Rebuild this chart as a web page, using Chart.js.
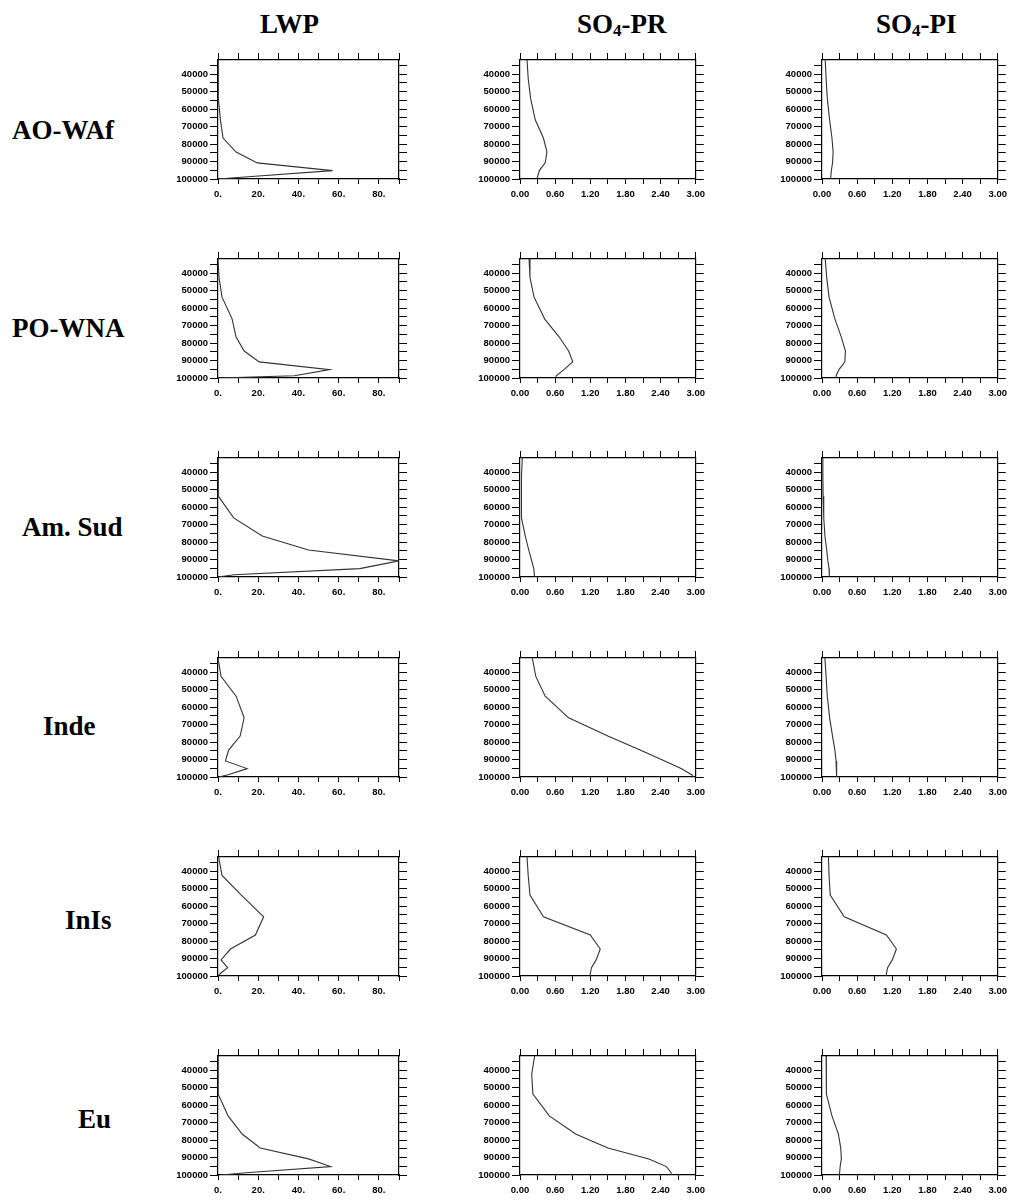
<!DOCTYPE html>
<html>
<head>
<meta charset="utf-8">
<script src="https://cdn.jsdelivr.net/npm/chart.js@4.4.1/dist/chart.umd.min.js"></script>
<style>
  html, body { margin: 0; padding: 0; background: #fff; }
  #page { position: relative; width: 1017px; height: 1202px; background: #fff; overflow: hidden; }
  .title, .region {
    position: absolute;
    font-family: "Liberation Serif", "Times New Roman", serif;
    font-weight: bold;
    font-size: 27px;
    line-height: 27px;
    color: #000;
    white-space: nowrap;
  }
  .title sub { font-size: 17px; vertical-align: -3px; line-height: 0; }
  .panel { position: absolute; }
</style>
</head>
<body>
<div id="page"></div>
<script>
// ────────────────────────────────────────
// Data — vertical profiles (pressure in Pa)
// ────────────────────────────────────────
const REGIONS = ['AO-WAf', 'PO-WNA', 'Am. Sud', 'Inde', 'InIs', 'Eu'];
const COLUMN_TITLES = ['LWP', 'SO<sub>4</sub>-PR', 'SO<sub>4</sub>-PI'];

const PRESSURE_LEVELS = [32000, 42500, 53800, 66200, 76600, 84600, 90800, 95200, 98700, 100000];

const PRESSURE_TICKS = [35000, 40000, 45000, 50000, 55000, 60000, 65000, 70000, 75000, 80000, 85000, 90000, 95000, 100000];
const PRESSURE_LABELS = ['', '40000', '', '50000', '', '60000', '', '70000', '', '80000', '', '90000', '', '100000'];

const LWP_TICKS = [0, 10, 20, 30, 40, 50, 60, 70, 80, 90];
const LWP_LABELS = ['0.', '', '20.', '', '40.', '', '60.', '', '80.', ''];

const SO4_TICKS = [0, 0.3, 0.6, 0.9, 1.2, 1.5, 1.8, 2.1, 2.4, 2.7, 3.0];
const SO4_LABELS = ['0.00', '', '0.60', '', '1.20', '', '1.80', '', '2.40', '', '3.00'];

// LWP
const LWP_AOWAF = [0, 0, 0.3, 1.2, 2.5, 9, 19.5, 57, 15, 0];
const LWP_POWNA = [0, 0.5, 2, 7, 9, 13, 20.5, 55.5, 38, 0];
const LWP_AMSUD = [0, 0, 0.3, 7.8, 22, 45, 90, 70.5, 8, 0];
const LWP_INDE = [0, 1.5, 9, 13, 11, 5.3, 3.7, 14.5, 5, 0.5];
const LWP_INIS = [0.3, 2, 11.6, 22.7, 18.6, 6.2, 1.5, 4.8, 1, 0];
const LWP_EU = [0, 0, 0.2, 5, 12, 21, 45, 56, 14, 1.5];

// SO4 present day
const SO4PR_AOWAF = [0.12, 0.14, 0.18, 0.26, 0.40, 0.46, 0.43, 0.33, 0.30, 0.29];
const SO4PR_POWNA = [0.155, 0.17, 0.24, 0.42, 0.67, 0.83, 0.90, 0.75, 0.62, 0.61];
const SO4PR_AMSUD = [0.04, 0.025, 0.02, 0.03, 0.09, 0.15, 0.20, 0.235, 0.245, 0.245];
const SO4PR_INDE = [0.21, 0.27, 0.43, 0.83, 1.5, 2.05, 2.47, 2.75, 2.93, 2.96];
const SO4PR_INIS = [0.12, 0.14, 0.17, 0.40, 1.2, 1.37, 1.3, 1.22, 1.2, 1.2];
const SO4PR_EU = [0.25, 0.20, 0.22, 0.50, 0.95, 1.5, 2.2, 2.5, 2.58, 2.58];

// SO4 pre-industrial
const SO4PI_AOWAF = [0.055, 0.07, 0.09, 0.13, 0.17, 0.19, 0.18, 0.16, 0.15, 0.15];
const SO4PI_POWNA = [0.055, 0.08, 0.12, 0.22, 0.33, 0.40, 0.39, 0.29, 0.24, 0.24];
const SO4PI_AMSUD = [0.015, 0.015, 0.02, 0.03, 0.05, 0.08, 0.10, 0.12, 0.125, 0.125];
const SO4PI_INDE = [0.05, 0.07, 0.09, 0.13, 0.18, 0.22, 0.24, 0.25, 0.25, 0.25];
const SO4PI_INIS = [0.11, 0.12, 0.14, 0.38, 1.1, 1.27, 1.2, 1.12, 1.1, 1.1];
const SO4PI_EU = [0.07, 0.07, 0.08, 0.17, 0.28, 0.32, 0.33, 0.31, 0.30, 0.30];

const PROFILES = [
    [LWP_AOWAF, SO4PR_AOWAF, SO4PI_AOWAF],
    [LWP_POWNA, SO4PR_POWNA, SO4PI_POWNA],
    [LWP_AMSUD, SO4PR_AMSUD, SO4PI_AMSUD],
    [LWP_INDE, SO4PR_INDE, SO4PI_INDE],
    [LWP_INIS, SO4PR_INIS, SO4PI_INIS],
    [LWP_EU, SO4PR_EU, SO4PI_EU],
];

// ────────────────────────────────────────
// Layout
// ────────────────────────────────────────
const PLOT_LEFT = [218, 520, 822];
const PLOT_TOP = [60, 259, 458, 658, 857, 1056];
const PLOT_W = 181;
const PLOT_H = 119;
const AX_LEFT = 48, AX_RIGHT = 9, AX_TOP = 8, AX_BOTTOM = 26;

const TITLE_POS = [[260, 11], [577, 11], [876, 11]];
const REGION_POS = [[12, 117], [12, 315], [22, 514], [43, 713], [65, 907], [78, 1106]];

const TICK_FONT = { family: '"Liberation Sans", Arial, sans-serif', size: 9.5, weight: 'bold' };
const INK = '#000';

const page = document.getElementById('page');

COLUMN_TITLES.forEach((t, c) => {
    const el = document.createElement('div');
    el.className = 'title';
    el.innerHTML = t;
    el.style.left = TITLE_POS[c][0] + 'px';
    el.style.top = TITLE_POS[c][1] + 'px';
    page.appendChild(el);
});

REGIONS.forEach((name, r) => {
    const el = document.createElement('div');
    el.className = 'region';
    el.textContent = name;
    el.style.left = REGION_POS[r][0] + 'px';
    el.style.top = REGION_POS[r][1] + 'px';
    page.appendChild(el);
});

function setTicks(values) {
    return scale => { scale.ticks = values.map(v => ({ value: v })); };
}

function buildScales(col) {
    const xTicks = col === 0 ? LWP_TICKS : SO4_TICKS;
    const xLabels = col === 0 ? LWP_LABELS : SO4_LABELS;
    const xMax = xTicks[xTicks.length - 1];
    const border = { display: true, color: INK, width: 1.2 };
    const grid = len => ({ drawOnChartArea: false, drawTicks: true, tickLength: len, color: INK, lineWidth: 1 });

    return {
        x: {
            type: 'linear', position: 'bottom', min: 0, max: xMax,
            afterBuildTicks: setTicks(xTicks),
            afterFit: s => { s.height = AX_BOTTOM; },
            ticks: {
                autoSkip: false, maxRotation: 0, padding: 5, color: INK, font: TICK_FONT,
                callback: (v, i) => xLabels[i],
            },
            grid: grid(5),
            border,
        },
        xTop: {
            type: 'linear', axis: 'x', position: 'top', min: 0, max: xMax,
            afterBuildTicks: setTicks(xTicks),
            afterFit: s => { s.height = AX_TOP; },
            ticks: { display: false },
            grid: grid(7),
            border,
        },
        y: {
            type: 'linear', position: 'left', reverse: true,
            min: PRESSURE_LEVELS[0], max: PRESSURE_LEVELS[PRESSURE_LEVELS.length - 1],
            afterBuildTicks: setTicks(PRESSURE_TICKS),
            afterFit: s => { s.width = AX_LEFT; },
            ticks: {
                autoSkip: false, padding: 2, color: INK, font: TICK_FONT,
                callback: (v, i) => PRESSURE_LABELS[i],
            },
            grid: grid(8),
            border,
        },
        yRight: {
            type: 'linear', axis: 'y', position: 'right', reverse: true,
            min: PRESSURE_LEVELS[0], max: PRESSURE_LEVELS[PRESSURE_LEVELS.length - 1],
            afterBuildTicks: setTicks(PRESSURE_TICKS),
            afterFit: s => { s.width = AX_RIGHT; },
            ticks: { display: false },
            grid: grid(8),
            border,
        },
    };
}

PROFILES.forEach((row, r) => {
    row.forEach((values, c) => {
        const wrap = document.createElement('div');
        wrap.className = 'panel';
        const w = AX_LEFT + PLOT_W + AX_RIGHT;
        const h = AX_TOP + PLOT_H + AX_BOTTOM;
        wrap.style.left = (PLOT_LEFT[c] - AX_LEFT) + 'px';
        wrap.style.top = (PLOT_TOP[r] - AX_TOP) + 'px';
        wrap.style.width = w + 'px';
        wrap.style.height = h + 'px';
        const canvas = document.createElement('canvas');
        canvas.width = w;
        canvas.height = h;
        canvas.style.width = w + 'px';
        canvas.style.height = h + 'px';
        wrap.appendChild(canvas);
        page.appendChild(wrap);

        new Chart(canvas, {
            type: 'scatter',
            data: {
                datasets: [{
                    data: PRESSURE_LEVELS.map((p, i) => ({ x: values[i], y: p })),
                    showLine: true,
                    borderColor: '#333',
                    borderWidth: 1.1,
                    pointRadius: 0,
                    tension: 0,
                    fill: false,
                    xAxisID: 'x',
                    yAxisID: 'y',
                }],
            },
            options: {
                responsive: false,
                animation: false,
                devicePixelRatio: 1,
                layout: { padding: 0 },
                plugins: { legend: { display: false }, tooltip: { enabled: false } },
                scales: buildScales(c),
            },
        });
    });
});
</script>
</body>
</html>
